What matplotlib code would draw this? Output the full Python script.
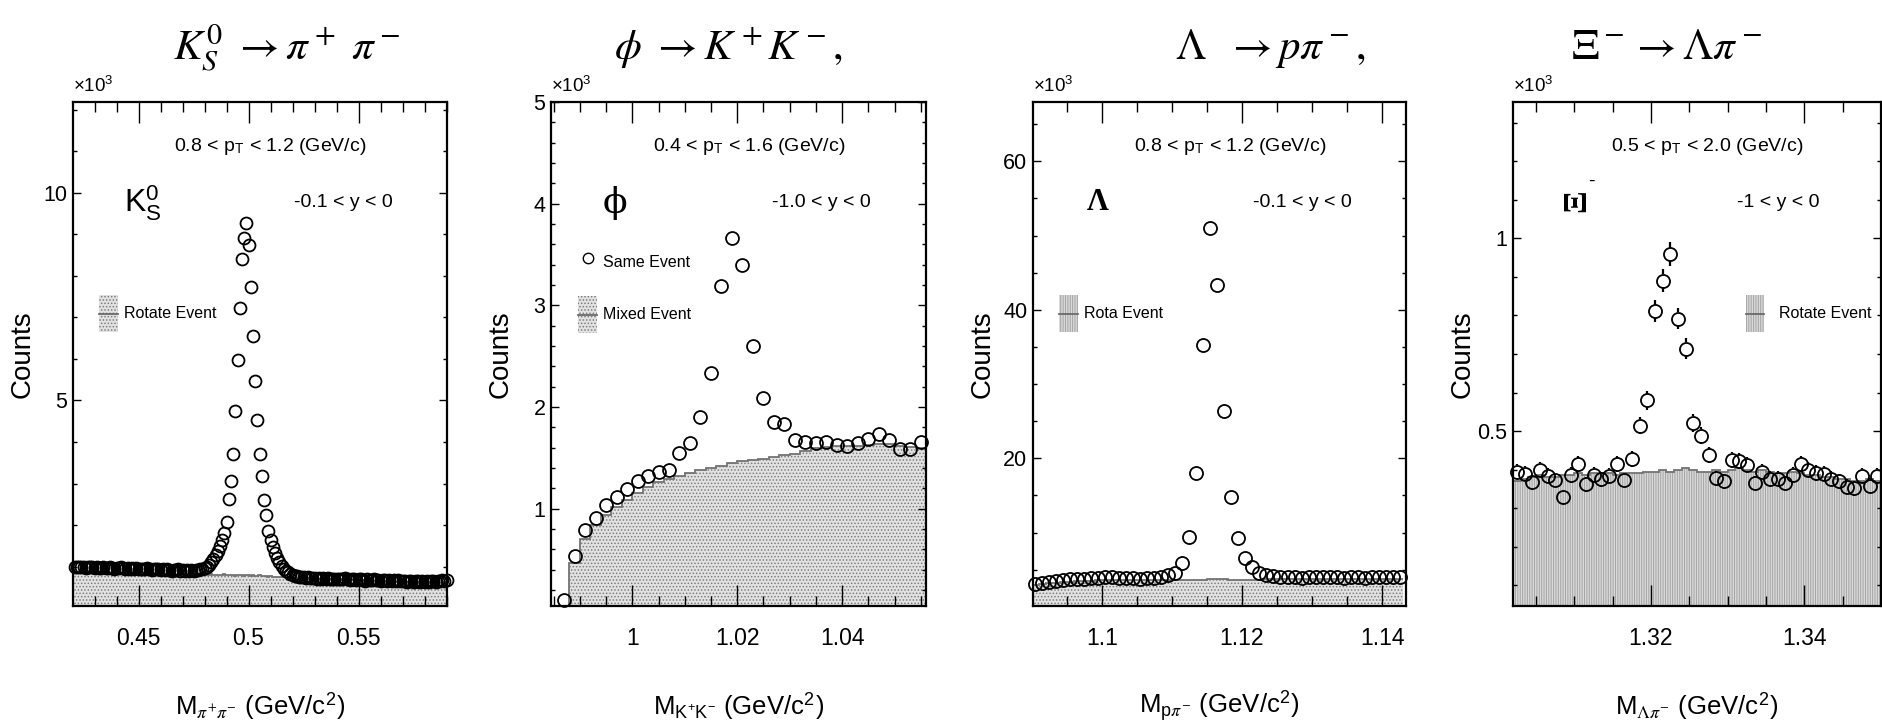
import numpy as np
import matplotlib
matplotlib.use("Agg")
import matplotlib.pyplot as plt
from matplotlib.ticker import MultipleLocator, FuncFormatter
from matplotlib.patches import Rectangle
from matplotlib.lines import Line2D

plt.rcParams['font.family'] = ['Liberation Sans', 'DejaVu Sans']
plt.rcParams['mathtext.fontset'] = 'stix'
plt.rcParams['hatch.linewidth'] = 0.7

W, H = 1883, 725

# ---- K0s -> pi+ pi-  (1 MeV bins, counts x10^3)
k0_edges = np.linspace(0.4205, 0.5905, 171)
k0_same = [
    0.99, 1.00, 0.98, 1.00, 0.99, 0.97, 0.98, 1.00, 0.98, 0.97,
    0.98, 0.96, 0.97, 0.99, 0.97, 0.96, 0.98, 0.97, 0.95, 0.97,
    0.96, 0.98, 0.96, 0.95, 0.97, 0.95, 0.96, 0.94, 0.96, 0.95,
    0.93, 0.95, 0.94, 0.96, 0.94, 0.92, 0.95, 0.93, 0.94, 0.92,
    0.93, 0.91, 0.93, 0.92, 0.90, 0.92, 0.91, 0.93, 0.90, 0.91,
    0.90, 0.92, 0.90, 0.91, 0.89, 0.91, 0.92, 0.93, 0.95, 0.97,
    1.00, 1.04, 1.10, 1.18, 1.27, 1.38, 1.50, 1.64, 1.81, 2.07,
    2.62, 3.05, 3.72, 4.74, 5.98, 7.22, 8.42, 8.92, 9.27, 8.75,
    7.73, 6.56, 5.48, 4.52, 3.70, 3.17, 2.60, 2.24, 1.86, 1.64,
    1.46, 1.32, 1.20, 1.10, 1.02, 0.95, 0.90, 0.86, 0.82, 0.80,
    0.78, 0.77, 0.76, 0.74, 0.75, 0.73, 0.74, 0.72, 0.73, 0.72,
    0.71, 0.73, 0.71, 0.72, 0.70, 0.72, 0.71, 0.69, 0.71, 0.70,
    0.71, 0.69, 0.70, 0.72, 0.70, 0.68, 0.70, 0.69, 0.67, 0.70,
    0.69, 0.68, 0.66, 0.69, 0.67, 0.68, 0.69, 0.67, 0.68, 0.66,
    0.67, 0.68, 0.66, 0.67, 0.65, 0.67, 0.66, 0.68, 0.66, 0.65,
    0.66, 0.64, 0.66, 0.65, 0.64, 0.66, 0.65, 0.63, 0.65, 0.64,
    0.65, 0.64, 0.66, 0.65, 0.64, 0.66, 0.65, 0.67, 0.66, 0.67,
]
k0_rotate = [
    0.86, 0.86, 0.85, 0.86, 0.86, 0.85, 0.86, 0.85, 0.85, 0.86,
    0.85, 0.85, 0.84, 0.85, 0.85, 0.84, 0.85, 0.84, 0.84, 0.85,
    0.84, 0.84, 0.83, 0.84, 0.84, 0.83, 0.84, 0.83, 0.83, 0.84,
    0.83, 0.83, 0.82, 0.83, 0.83, 0.82, 0.83, 0.82, 0.82, 0.83,
    0.82, 0.82, 0.81, 0.82, 0.82, 0.81, 0.82, 0.81, 0.81, 0.82,
    0.81, 0.81, 0.80, 0.81, 0.81, 0.80, 0.81, 0.80, 0.80, 0.81,
    0.80, 0.80, 0.81, 0.79, 0.80, 0.80, 0.79, 0.80, 0.81, 0.79,
    0.80, 0.79, 0.80, 0.78, 0.79, 0.80, 0.79, 0.78, 0.79, 0.80,
    0.78, 0.79, 0.77, 0.78, 0.79, 0.77, 0.78, 0.77, 0.76, 0.77,
    0.76, 0.76, 0.75, 0.76, 0.75, 0.74, 0.75, 0.74, 0.74, 0.73,
    0.73, 0.73, 0.72, 0.73, 0.72, 0.72, 0.71, 0.72, 0.71, 0.71,
    0.71, 0.70, 0.71, 0.70, 0.70, 0.70, 0.69, 0.70, 0.69, 0.69,
    0.69, 0.68, 0.69, 0.68, 0.68, 0.68, 0.67, 0.68, 0.67, 0.67,
    0.67, 0.66, 0.67, 0.66, 0.66, 0.66, 0.65, 0.66, 0.65, 0.65,
    0.65, 0.64, 0.65, 0.64, 0.64, 0.64, 0.63, 0.64, 0.63, 0.63,
    0.63, 0.63, 0.62, 0.63, 0.62, 0.62, 0.62, 0.62, 0.61, 0.62,
    0.62, 0.61, 0.62, 0.61, 0.61, 0.62, 0.61, 0.61, 0.62, 0.61,
]

# ---- phi -> K+ K-  (2 MeV bins)
phi_edges = np.linspace(0.986, 1.056, 36)
phi_same = [
    0.105, 0.533, 0.791, 0.907, 1.040, 1.111, 1.190, 1.273, 1.323, 1.364,
    1.385, 1.551, 1.643, 1.905, 2.337, 3.188, 3.666, 3.396, 2.598, 2.091,
    1.850, 1.834, 1.680, 1.655, 1.651, 1.659, 1.622, 1.614, 1.647, 1.684,
    1.730, 1.676, 1.585, 1.585, 1.655,
]
phi_mixed = [
    0.00, 0.47, 0.70, 0.84, 0.94, 1.02, 1.09, 1.15, 1.21, 1.26,
    1.29, 1.32, 1.35, 1.38, 1.40, 1.42, 1.45, 1.47, 1.48, 1.49,
    1.51, 1.53, 1.54, 1.57, 1.60, 1.61, 1.62, 1.62, 1.62, 1.63,
    1.64, 1.64, 1.62, 1.61, 1.60,
]

# ---- Lambda -> p pi-  (1 MeV bins)
lam_edges = np.linspace(1.090, 1.143, 54)
lam_same = [
    3.00, 3.20, 3.35, 3.50, 3.60, 3.70, 3.75, 3.80, 3.85, 3.90,
    3.95, 3.95, 3.90, 3.85, 3.85, 3.80, 3.85, 3.90, 4.00, 4.30,
    4.60, 5.85, 9.45, 18.0, 35.3, 51.0, 43.4, 26.4, 14.8, 9.30,
    6.60, 5.30, 4.60, 4.30, 4.10, 4.00, 3.95, 3.95, 3.90, 3.95,
    3.95, 3.95, 3.95, 3.95, 3.90, 3.95, 3.95, 3.90, 3.95, 4.00,
    3.95, 4.00, 4.00,
]
lam_rotate = [
    2.90, 3.05, 3.15, 3.25, 3.35, 3.40, 3.45, 3.50, 3.50, 3.55,
    3.55, 3.55, 3.55, 3.55, 3.55, 3.55, 3.55, 3.60, 3.60, 3.60,
    3.60, 3.65, 3.65, 3.65, 3.65, 3.70, 3.70, 3.70, 3.65, 3.65,
    3.65, 3.65, 3.65, 3.70, 3.70, 3.70, 3.70, 3.70, 3.70, 3.70,
    3.70, 3.75, 3.75, 3.75, 3.75, 3.75, 3.75, 3.75, 3.75, 3.80,
    3.80, 3.80, 3.80,
]

# ---- Xi- -> Lambda pi-  (1 MeV bins)
xi_edges = np.linspace(1.302, 1.350, 49)
xi_same = [
    0.395, 0.389, 0.367, 0.400, 0.384, 0.373, 0.329, 0.386, 0.414, 0.362,
    0.387, 0.375, 0.384, 0.414, 0.373, 0.427, 0.514, 0.580, 0.811, 0.890,
    0.959, 0.792, 0.714, 0.521, 0.488, 0.437, 0.378, 0.370, 0.425, 0.422,
    0.413, 0.365, 0.395, 0.376, 0.376, 0.365, 0.387, 0.414, 0.400, 0.391,
    0.389, 0.376, 0.370, 0.356, 0.351, 0.384, 0.358, 0.384,
]
xi_rotate = [
    0.370, 0.375, 0.380, 0.385, 0.380, 0.380, 0.385, 0.385, 0.390, 0.385,
    0.390, 0.390, 0.390, 0.385, 0.390, 0.390, 0.390, 0.395, 0.395, 0.400,
    0.395, 0.400, 0.405, 0.400, 0.395, 0.395, 0.400, 0.395, 0.400, 0.405,
    0.400, 0.395, 0.400, 0.395, 0.390, 0.390, 0.395, 0.390, 0.385, 0.385,
    0.380, 0.380, 0.375, 0.375, 0.370, 0.370, 0.375, 0.370,
]

panels = [
    dict(left=73, right=447, edges=k0_edges, same=k0_same, bkg=k0_rotate,
         xlim=(0.4202, 0.5902), ylim=(0.05, 12.19), xmaj=0.05, xmin=0.01,
         ymaj=5, ymin=1, ms=8.6, fill='dots', pt=r'0.8 < p$_{\mathregular{T}}$ < 1.2 (GeV/c)',
         rap='-0.1 < y < 0', xlabel=r'M$_{\pi^{+}\pi^{-}}$ (GeV/c$^{\mathregular{2}}$)',
         legend=[('box', 'dots', 'Rotate Event', 0.070, 0.58, 0.066)],
         title=r'$K_S^0\ \rightarrow \pi^+\ \pi^-$', title_x=287),
    dict(left=551, right=926, edges=phi_edges, same=phi_same, bkg=phi_mixed,
         xlim=(0.9845, 1.0560), ylim=(0.043, 5.0), xmaj=0.02, xmin=0.005,
         ymaj=1, ymin=0.2, ms=9.3, fill='dots', pt=r'0.4 < p$_{\mathregular{T}}$ < 1.6 (GeV/c)',
         rap='-1.0 < y < 0', xlabel=r'M$_{\mathregular{K^{+}K^{-}}}$ (GeV/c$^{\mathregular{2}}$)',
         legend=[('marker', None, 'Same Event', 0.099, 0.69, 0.04),
                 ('box', 'dots', 'Mixed Event', 0.072, 0.578, 0.066)],
         title=r'$\phi\ \rightarrow K^+K^-,$', title_x=728),
    dict(left=1033, right=1406, edges=lam_edges, same=lam_same, bkg=lam_rotate,
         xlim=(1.0902, 1.1434), ylim=(0.1, 68.0), xmaj=0.02, xmin=0.005,
         ymaj=20, ymin=5, ms=9.4, fill='dots', pt=r'0.8 < p$_{\mathregular{T}}$ < 1.2 (GeV/c)',
         rap='-0.1 < y < 0', xlabel=r'M$_{\mathregular{p}\pi^{-}}$ (GeV/c$^{\mathregular{2}}$)',
         legend=[('box', 'lines', 'Rota Event', 0.070, 0.58, 0.066)],
         title=r'$\mathit{\Lambda}\ \ \rightarrow p\pi^-,$', title_x=1270),
    dict(left=1513, right=1881, edges=xi_edges, same=xi_same, bkg=xi_rotate,
         xlim=(1.302, 1.350), ylim=(0.046, 1.354), xmaj=0.02, xmin=0.005,
         ymaj=0.5, ymin=0.1, ms=9.4, fill='lines', pt=r'0.5 < p$_{\mathregular{T}}$ < 2.0 (GeV/c)',
         rap='-1 < y < 0', xlabel=r'M$_{\Lambda\pi^{-}}$ (GeV/c$^{\mathregular{2}}$)',
         legend=[('box', 'lines', 'Rotate Event', 0.632, 0.58, 0.092)],
         title=r'$\Xi^-\rightarrow \mathit{\Lambda}\pi^-$', title_x=1667),
]

fills = {
    'dots': dict(facecolor='#e2e2e2', edgecolor='#7c7c7c', hatch='.....'),
    'lines': dict(facecolor='#d9d9d9', edgecolor='#a4a4a4', hatch='|||||||'),
}

TOP, BOTTOM = 102, 606
fmt = FuncFormatter(lambda v, p: f'{v:g}')

fig = plt.figure(figsize=(W / 100, H / 100), dpi=100)

for i, p in enumerate(panels):
    ax = fig.add_axes([p['left'] / W, (H - BOTTOM) / H,
                       (p['right'] - p['left']) / W, (BOTTOM - TOP) / H])
    ax.set_xlim(*p['xlim'])
    ax.set_ylim(*p['ylim'])

    edges = p['edges']
    centers = 0.5 * (edges[1:] + edges[:-1])
    bkg = np.array(p['bkg'])
    same = np.array(p['same'])

    ax.stairs(bkg, edges, fill=True, baseline=0, linewidth=0, zorder=1, **fills[p['fill']])
    ax.stairs(bkg, edges, baseline=None, color='#737373', linewidth=1.3, zorder=2)

    ax.plot(centers, same, 'o', ms=p['ms'], mfc='none', mec='black', mew=1.3,
            zorder=4, clip_on=False)

    if i == 3:
        # Poisson error bars, drawn only outside the open marker
        err = np.sqrt(same * 1000) / 1000
        pos = ax.get_position()
        r = p['ms'] * 100 / 72 / 2 * (p['ylim'][1] - p['ylim'][0]) / (pos.height * H)
        show = err > r
        ax.vlines(centers[show], same[show] + r, same[show] + err[show], color='black', lw=1.6, zorder=4)
        ax.vlines(centers[show], same[show] - err[show], same[show] - r, color='black', lw=1.6, zorder=4)

    # frame and ticks
    for s in ax.spines.values():
        s.set_linewidth(1.6)
    ax.xaxis.set_major_locator(MultipleLocator(p['xmaj']))
    ax.xaxis.set_minor_locator(MultipleLocator(p['xmin']))
    ax.yaxis.set_major_locator(MultipleLocator(p['ymaj']))
    ax.yaxis.set_minor_locator(MultipleLocator(p['ymin']))
    ax.xaxis.set_major_formatter(fmt)
    ax.yaxis.set_major_formatter(fmt)
    ax.tick_params(which='both', direction='in', top=True, right=True, width=1.0)
    ax.tick_params(axis='x', which='major', length=15, labelsize=16.5, pad=15)
    ax.tick_params(axis='x', which='minor', length=7.5)
    ax.tick_params(axis='y', which='major', length=6, labelsize=15.5, pad=4)
    ax.tick_params(axis='y', which='minor', length=3.2)

    ax.text(0, 1.012, r'$\mathregular{\times10^{3}}$', transform=ax.transAxes,
            ha='left', va='bottom', fontsize=13.5)

    # annotations
    ax.text(0.528, 0.912, p['pt'], transform=ax.transAxes, ha='center', va='center', fontsize=14)
    ax.text(0.722, 0.80, p['rap'], transform=ax.transAxes, ha='center', va='center', fontsize=14)

    for kind, style, label, lx, ly, gap in p['legend']:
        if kind == 'marker':
            ax.plot([lx], [ly], 'o', ms=7.5, mfc='none', mec='black', mew=1.0,
                    transform=ax.transAxes)
            ax.text(lx + gap, ly - 0.008, label, transform=ax.transAxes,
                    ha='left', va='center', fontsize=11.5)
        else:
            ax.add_patch(Rectangle((lx, ly - 0.037), 0.051, 0.074, transform=ax.transAxes,
                                   linewidth=0, zorder=3, **fills[style]))
            ax.add_line(Line2D([lx, lx + 0.051], [ly, ly], transform=ax.transAxes,
                               color='#6a6a6a', lw=1.3, zorder=3))
            ax.text(lx + gap, ly, label, transform=ax.transAxes,
                    ha='left', va='center', fontsize=11.5)

    cx = 0.5 * (p['left'] + p['right'])
    fig.text((p['left'] - 50) / W, (H - 354) / H, 'Counts', rotation=90,
             ha='center', va='center', fontsize=20)
    fig.text(cx / W, (H - 706) / H, p['xlabel'], ha='center', va='center', fontsize=18.5)
    fig.text(p['title_x'] / W, (H - 48) / H, p['title'], ha='center', va='center', fontsize=31)

# particle labels
axs = fig.axes
axs[0].text(0.186, 0.80, r'K$_{\mathregular{S}}^{\mathregular{0}}$', transform=axs[0].transAxes,
            ha='center', va='center', fontsize=23)
axs[1].text(0.171, 0.80, '\u03d5', transform=axs[1].transAxes, ha='center', va='center',
            fontsize=26, family=['DejaVu Serif'])
axs[2].text(0.174, 0.80, '\u039b', transform=axs[2].transAxes, ha='center', va='center',
            fontsize=22, fontweight='bold', family=['Liberation Serif', 'DejaVu Serif'])
axs[3].text(0.173, 0.804, '\u039e', transform=axs[3].transAxes, ha='center', va='center',
            fontsize=24, fontweight='bold', rotation=90, family=['Liberation Serif', 'DejaVu Serif'])
axs[3].text(0.212, 0.842, '-', transform=axs[3].transAxes, ha='center', va='center', fontsize=14)

fig.savefig('out.png', dpi=100)
